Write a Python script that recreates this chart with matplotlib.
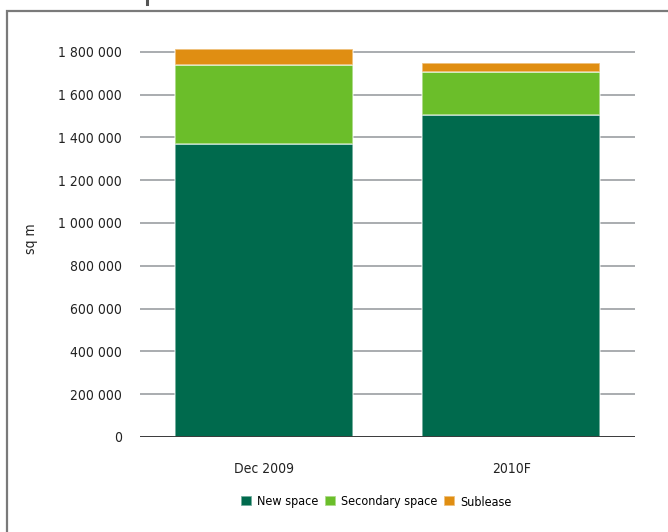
import matplotlib
matplotlib.use("Agg")
import matplotlib.pyplot as plt
from matplotlib.patches import Rectangle
from matplotlib.lines import Line2D
from matplotlib.ticker import FuncFormatter

categories = ["Dec 2009", "2010F"]
new_space = [1370000, 1505000]
secondary_space = [370000, 200000]
sublease = [73000, 40000]
series_names = ["New space", "Secondary space", "Sublease"]
colors = ["#006A4D", "#6BBE2A", "#E08E12"]
yticks = [0, 200000, 400000, 600000, 800000, 1000000, 1200000, 1400000, 1600000, 1800000]

plt.rcParams['font.family'] = ['DejaVu Sans']
plt.rcParams['font.stretch'] = 'condensed'

fig = plt.figure(figsize=(6.68, 5.32), dpi=100)
ax = fig.add_axes([140/668, (532-437)/532, (635-140)/668, 396/532])

x = range(len(categories))
bottom = [0, 0]
for vals, name, c in zip([new_space, secondary_space, sublease], series_names, colors):
    ax.bar(x, vals, bottom=bottom, width=0.72, color=c, label=name,
           edgecolor=(1, 1, 1, 0.55), linewidth=1.2, zorder=3)
    bottom = [b + v for b, v in zip(bottom, vals)]

ax.set_xlim(-0.5, 1.5)
ax.set_ylim(0, 1850000)
ax.set_yticks(yticks)
ax.yaxis.set_major_formatter(FuncFormatter(lambda v, p: f"{int(v):,}".replace(",", " ")))
ax.set_xticks(list(x))
ax.set_xticklabels(categories)
ax.grid(axis='y', color='#A3A6A9', linewidth=1.3, zorder=0)
ax.axhline(0, color='#333333', linewidth=1.3, zorder=4)
for s in ax.spines.values():
    s.set_visible(False)
ax.tick_params(axis='both', length=0, labelsize=10, colors='#222222')
ax.tick_params(axis='y', pad=13)
ax.tick_params(axis='x', pad=18)
ax.set_ylabel("sq m", fontsize=10, color='#222222')
ax.yaxis.set_label_coords((38 - 140) / 495, 0.5)

handles, labels = ax.get_legend_handles_labels()
fig.legend(handles, labels, loc='center', bbox_to_anchor=(376/668, 1 - 502/532),
           ncol=3, frameon=False, fontsize=9, handlelength=0.9, handleheight=0.9,
           handletextpad=0.4, columnspacing=0.5)

# outer frame
fig.patches.append(Rectangle((7/668, -0.1), 1.2, 1 - 11/532 + 0.1, transform=fig.transFigure,
                             fill=False, edgecolor='#7A7A7A', linewidth=1.6))
# fragment of the cut-off heading above the frame
fig.lines.append(Line2D([147/668, 147/668], [1.0, 1 - 4/532], transform=fig.transFigure,
                        color='#555555', linewidth=2.2))

fig.savefig("out.png", dpi=100)
